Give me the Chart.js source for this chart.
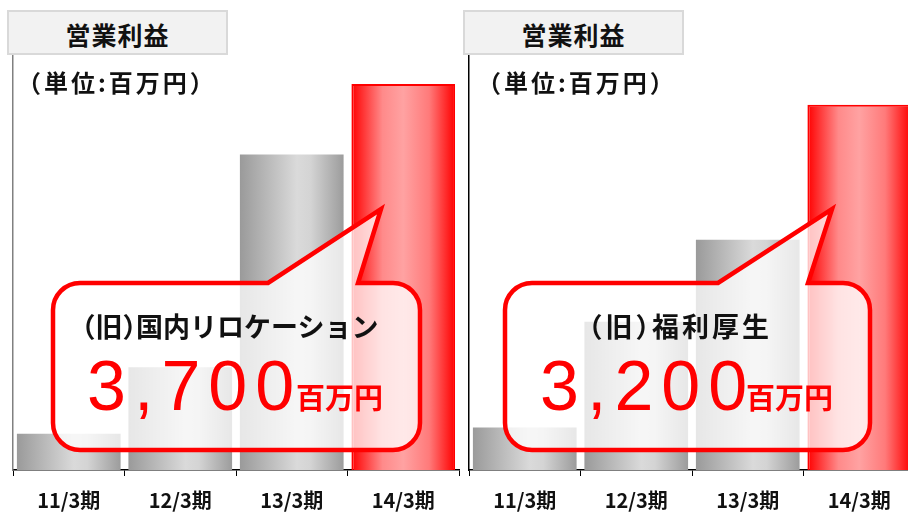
<!DOCTYPE html>
<html><head><meta charset="utf-8">
<script src="https://cdn.jsdelivr.net/npm/chart.js@4/dist/chart.umd.min.js"></script>
<style>
html,body{margin:0;padding:0;width:908px;height:513px;overflow:hidden;background:#fff;font-family:"Noto Sans CJK JP","Noto Sans",sans-serif;}
.wrap{position:absolute;top:0;width:460px;height:513px;overflow:hidden;}
.wrap canvas{position:absolute;left:0;top:0;}
.title{position:absolute;top:10px;width:217px;height:31px;padding-top:10px;background:#f2f2f2;border:2px solid #d9d9d9;font-weight:bold;font-size:25px;line-height:25px;letter-spacing:1px;text-align:center;color:#111;z-index:2;}
.unit{position:absolute;top:70px;font-weight:bold;font-size:24px;line-height:24px;letter-spacing:3px;color:#111;white-space:nowrap;z-index:2;}
.t{position:absolute;white-space:nowrap;z-index:3;}
.head{font-weight:bold;font-size:27px;line-height:27px;color:#111;font-feature-settings:"halt";}
.num{font-family:"Liberation Sans",Arial,sans-serif;font-size:70px;line-height:70px;letter-spacing:8px;color:#ff0000;}
.yen{font-weight:bold;font-size:29px;line-height:29px;color:#ff0000;}
</style></head>
<body>
<div class="wrap" id="w1" style="left:0">
  <canvas id="c1" width="460" height="525"></canvas>
  <div class="title" style="left:7px">営業利益</div>
  <div class="unit" style="left:17px">（単位:百万円）</div>
  <div class="t head" style="left:82px;top:312px">（旧）国内リロケーション</div>
  <div class="t num" style="left:87px;top:351px">3,700</div>
  <div class="t yen" style="left:296px;top:382px">百万円</div>
</div>
<div class="wrap" id="w2" style="left:460px;width:448px">
  <canvas id="c2" width="460" height="525"></canvas>
  <div class="title" style="left:3px">営業利益</div>
  <div class="unit" style="left:17px">（単位:百万円）</div>
  <div class="t head" style="left:129px;top:312px;letter-spacing:3px">（旧）福利厚生</div>
  <div class="t num" style="left:80px;top:351px">3,200</div>
  <div class="t yen" style="left:286px;top:382px">百万円</div>
</div>
<script>
// ---- data ----
const categories = ["11/3期", "12/3期", "13/3期", "14/3期"];
const leftValues = [350, 990, 3040, 3720];   // 営業利益 (left panel), 百万円
const rightValues = [410, 1430, 2220, 3520]; // 営業利益 (right panel), 百万円
const yMax = 4000;

function barFill(context) {
  const chart = context.chart;
  const xs = chart.scales.x;
  const isLast = context.dataIndex === categories.length - 1;
  if (!xs || !chart.chartArea) return isLast ? '#ff4040' : '#bbbbbb';
  const cx = xs.getPixelForValue(context.dataIndex);
  const catW = xs.width / categories.length;
  const bw = catW * 0.93;
  const g = chart.ctx.createLinearGradient(cx - bw / 2, 0, cx + bw / 2, 0);
  if (isLast) {
    g.addColorStop(0, '#ff0000');
    g.addColorStop(0.3, '#ff8a8a');
    g.addColorStop(0.5, '#ffa2a2');
    g.addColorStop(0.75, '#ff7a7a');
    g.addColorStop(1, '#ff0000');
  } else {
    g.addColorStop(0, '#9a9a9a');
    g.addColorStop(0.55, '#dadada');
    g.addColorStop(0.68, '#d4d4d4');
    g.addColorStop(1, '#9c9c9c');
  }
  return g;
}

const calloutPlugin = {
  id: 'callout',
  afterDatasetsDraw(chart, args, o) {
    const ctx = chart.ctx;
    const {x, y, w, h, r, b1, b2, tx, ty} = o;
    ctx.save();
    ctx.beginPath();
    ctx.moveTo(x + r, y);
    ctx.lineTo(b1, y);
    ctx.lineTo(tx, ty);
    ctx.lineTo(b2, y);
    ctx.lineTo(x + w - r, y);
    ctx.arcTo(x + w, y, x + w, y + r, r);
    ctx.lineTo(x + w, y + h - r);
    ctx.arcTo(x + w, y + h, x + w - r, y + h, r);
    ctx.lineTo(x + r, y + h);
    ctx.arcTo(x, y + h, x, y + h - r, r);
    ctx.lineTo(x, y + r);
    ctx.arcTo(x, y, x + r, y, r);
    ctx.closePath();
    ctx.fillStyle = 'rgba(255,255,255,0.76)';
    ctx.fill();
    ctx.lineWidth = 4.5;
    ctx.strokeStyle = '#ff0000';
    ctx.lineJoin = 'miter';
    ctx.stroke();
    ctx.restore();
  }
};

function makeChart(id, values, yAxisColor, padding, callout) {
  return new Chart(document.getElementById(id), {
    type: 'bar',
    data: {
      labels: categories,
      datasets: [{
        data: values,
        backgroundColor: barFill,
        borderColor: (c) => c.dataIndex === categories.length - 1 ? '#ff0000' : 'rgba(0,0,0,0)',
        borderWidth: (c) => c.dataIndex === categories.length - 1 ? 2 : 0,
        borderSkipped: 'bottom',
        categoryPercentage: 1,
        barPercentage: 0.93
      }]
    },
    options: {
      responsive: false,
      animation: false,
      events: [],
      layout: { padding: padding },
      plugins: { legend: { display: false }, tooltip: { enabled: false }, title: { display: false }, callout: callout },
      scales: {
        x: {
          grid: { display: true, drawOnChartArea: false, drawTicks: true, tickLength: 6, color: '#000', offset: true },
          border: { display: true, color: '#000', width: 1.5 },
          ticks: { color: '#111', padding: 12, font: { family: '"Noto Sans CJK JP", sans-serif', size: 20, weight: 'bold' } }
        },
        y: {
          min: 0, max: yMax,
          grid: { display: false, drawTicks: false },
          border: { display: true, color: yAxisColor, width: 1.5 },
          ticks: { display: false }
        }
      }
    },
    plugins: [calloutPlugin]
  });
}

makeChart('c1', leftValues, '#808080', { left: 13, right: 1, top: 55, bottom: 1 },
  { x: 53, y: 283, w: 367, h: 167, r: 27, b1: 268, b2: 358, tx: 381, ty: 209 });
makeChart('c2', rightValues, '#000000', { left: 9, right: 5, top: 55, bottom: 1 },
  { x: 45, y: 283, w: 365, h: 167, r: 27, b1: 258, b2: 348, tx: 372, ty: 209 });
</script>
</body></html>
